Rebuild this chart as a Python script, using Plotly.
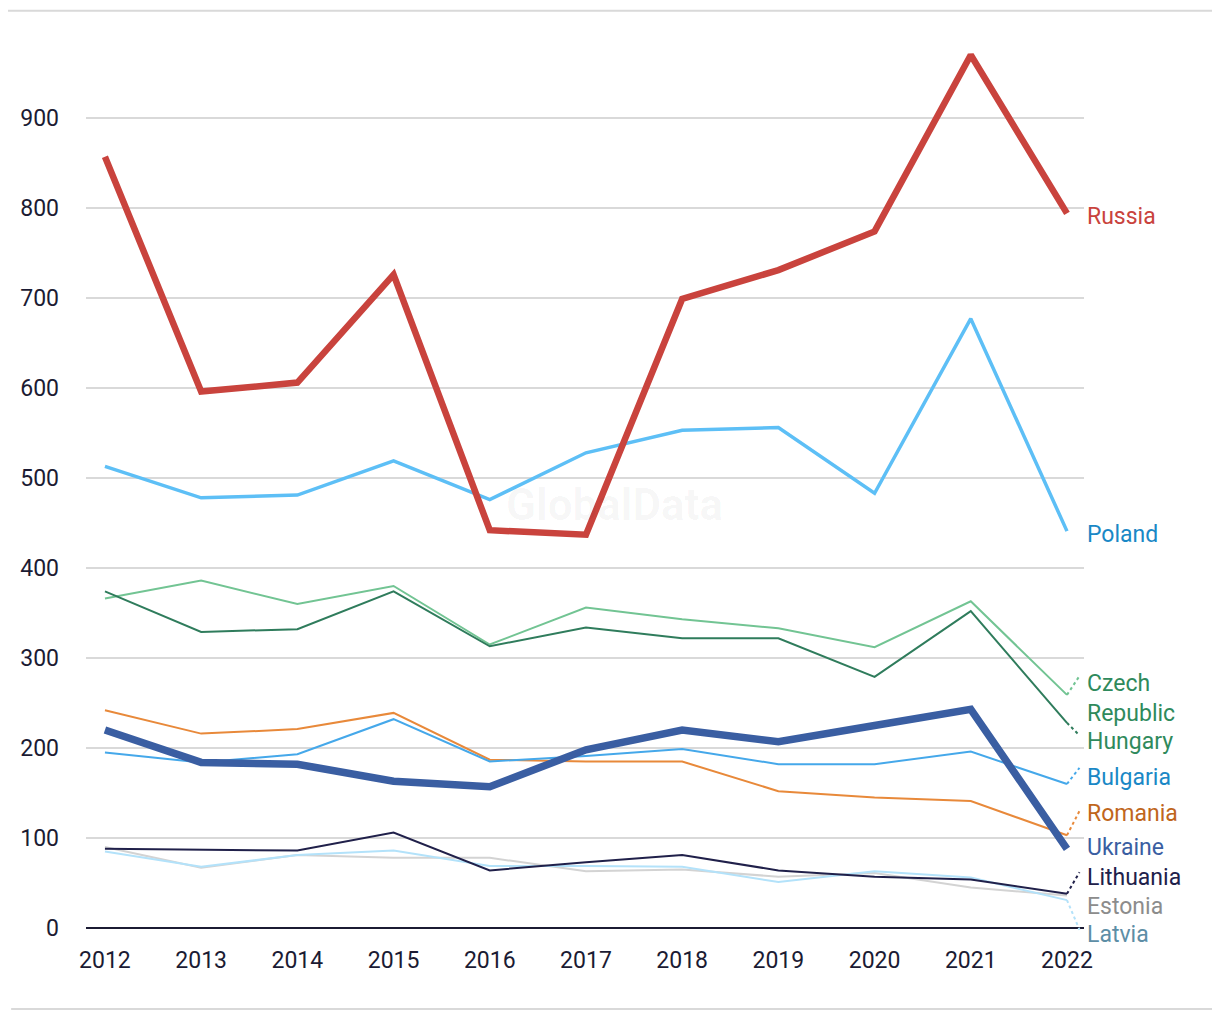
import plotly.graph_objects as go

years = [2012, 2013, 2014, 2015, 2016, 2017, 2018, 2019, 2020, 2021, 2022]

russia = [857, 596, 606, 726, 442, 437, 699, 731, 774, 970, 794]
poland = [513, 478, 481, 519, 476, 528, 553, 556, 483, 677, 441]
czech = [366, 386, 360, 380, 315, 356, 343, 333, 312, 363, 259]
hungary = [374, 329, 332, 374, 313, 334, 322, 322, 279, 352, 228]
romania = [242, 216, 221, 239, 187, 185, 185, 152, 145, 141, 103]
bulgaria = [195, 184, 193, 232, 185, 191, 199, 182, 182, 196, 160]
ukraine = [220, 184, 182, 163, 157, 198, 220, 207, 225, 243, 88]
lithuania = [88, 87, 86, 106, 64, 73, 81, 64, 57, 54, 38]
estonia = [90, 67, 81, 78, 78, 63, 65, 57, 61, 45, 36]
latvia = [85, 68, 81, 86, 69, 69, 68, 51, 63, 56, 31]

y_ticks = [0, 100, 200, 300, 400, 500, 600, 700, 800, 900]

X_RANGE = [2011.803, 2022.177]
Y_RANGE = [0, 1000]

# name, values, line colour, width, label text, label colour, label y, leader target
series = [
    ("Estonia", estonia, "#d3d3d3", 2, "Estonia", "#8c8c8c", 24, None),
    ("Latvia", latvia, "#b3e2fa", 2, "Latvia", "#5d8ea6", -7, -2),
    ("Lithuania", lithuania, "#20204a", 2, "Lithuania", "#20204a", 56, 62),
    ("Romania", romania, "#e8893a", 2, "Romania", "#c0661c", 127, 130),
    ("Bulgaria", bulgaria, "#45a8ea", 2, "Bulgaria", "#1a88c6", 167, 178),
    ("Czech Republic", czech, "#72c493", 2, "Czech<br>Republic", "#2f8a5c", 255, 280),
    ("Hungary", hungary, "#2f7c5c", 2, "Hungary", "#2f8a5c", 207, 214),
    ("Poland", poland, "#5dbff6", 3.5, "Poland", "#1a88c6", 437, None),
    ("Ukraine", ukraine, "#3a5ea2", 7.5, "Ukraine", "#3a5ea2", 89, None),
    ("Russia", russia, "#c9433d", 6.5, "Russia", "#c9433d", 790, None),
]

FONT = "Roboto, Inter, sans-serif"

fig = go.Figure()
for name, vals, col, w, lab, lcol, ly, tgt in series:
    fig.add_trace(go.Scatter(x=years, y=vals, mode="lines", name=name,
                             line=dict(color=col, width=w), showlegend=False,
                             cliponaxis=False))


def px(xv):
    return (xv - X_RANGE[0]) / (X_RANGE[1] - X_RANGE[0])


def py(yv):
    return (yv - Y_RANGE[0]) / (Y_RANGE[1] - Y_RANGE[0])


annotations = []
shapes = []
for name, vals, col, w, lab, lcol, ly, tgt in series:
    annotations.append(dict(x=px(2022.19), y=py(ly), xref="paper", yref="paper", text=lab,
                            showarrow=False, xanchor="left", yanchor="middle",
                            align="left",
                            font=dict(family=FONT, size=23, color=lcol)))
    if tgt is not None:
        shapes.append(dict(type="line", xref="paper", yref="paper", x0=px(2022), y0=py(vals[-1]),
                           x1=px(2022.13), y1=py(tgt),
                           line=dict(color=col, width=2, dash="dot")))

# watermark
annotations.append(dict(x=0.53, y=0.47, xref="paper", yref="paper", text="<b>GlobalData</b>",
                        showarrow=False, font=dict(family=FONT, size=44, color="rgba(0,0,0,0.035)")))

# top and bottom rules
shapes.append(dict(type="line", xref="paper", yref="paper", x0=-0.081, x1=1.135, y0=1.0192, y1=1.0192,
                   line=dict(color="#d9d9d9", width=2)))
shapes.append(dict(type="line", xref="paper", yref="paper", x0=-0.075, x1=1.135, y0=-0.09, y1=-0.09,
                   line=dict(color="#d9d9d9", width=2)))

fig.update_layout(
    width=1220, height=1020,
    margin=dict(l=76, r=144, t=20, b=100),
    paper_bgcolor="white", plot_bgcolor="white",
    font=dict(family=FONT, size=23, color="#1b1b33"),
    annotations=annotations, shapes=shapes,
    xaxis=dict(range=X_RANGE, tickvals=years, ticktext=[str(y) for y in years],
               showgrid=False, zeroline=False, showline=False, ticks="",
               ticklabelstandoff=16, tickfont=dict(family=FONT, size=23, color="#1b1b33")),
    yaxis=dict(range=Y_RANGE, tickvals=y_ticks, showgrid=True, gridcolor="#d9d9d9", gridwidth=2,
               zeroline=True, zerolinecolor="#1b1b33", zerolinewidth=2,
               showline=False, ticks="", ticklabelstandoff=26,
               tickfont=dict(family=FONT, size=23, color="#1b1b33")),
)

fig.write_html("out.html")
